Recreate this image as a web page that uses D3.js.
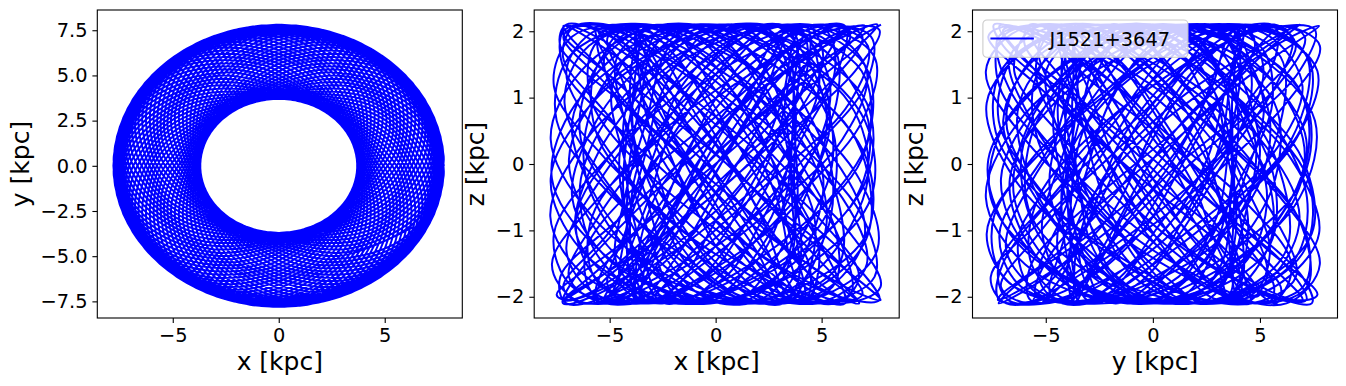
<!DOCTYPE html>
<html>
<head>
<meta charset="utf-8">
<script src="https://cdn.jsdelivr.net/npm/d3@7"></script>
<style>
  body { margin: 0; background: #fff; }
  text { font-family: "DejaVu Sans", sans-serif; fill: #000; }
</style>
</head>
<body>
<div id="chart"></div>
<script>
// Approximate orbit of J1521+3647 in cylindrical coordinates.
// The exact track cannot be read off the picture; these samples are estimates
// that match what can be read: R between 3.7 and 7.8 kpc, |z| up to 2.1 kpc,
// and a dense rosette. R [kpc], azimuth phi [deg], height z [kpc]
var orbitR = [
  7.8,7.2,5.75,4.3,3.7,4.3,5.75,7.2, 7.8,7.2,5.75,4.3,3.7,4.3,5.75,7.2, 7.8,7.2,5.75,4.3,3.7,4.3,5.75,7.2,
  7.8,7.2,5.75,4.3,3.7,4.3,5.75,7.2, 7.8,7.2,5.75,4.3,3.7,4.3,5.75,7.2, 7.8,7.2,5.75,4.3,3.7,4.3,5.75,7.2,
  7.8,7.2,5.75,4.3,3.7,4.3,5.75,7.2, 7.8,7.2,5.75,4.3,3.7,4.3,5.75,7.2, 7.8,7.2,5.75,4.3,3.7,4.3,5.75,7.2,
  7.8,7.2,5.75,4.3,3.7,4.3,5.75,7.2, 7.8,7.2,5.75,4.3,3.7,4.3,5.75,7.2, 7.8,7.2,5.75,4.3,3.7,4.3,5.75,7.2,
  7.8,7.2,5.75,4.3,3.7,4.3,5.75,7.2, 7.8,7.2,5.75,4.3,3.7,4.3,5.75,7.2, 7.8,7.2,5.75,4.3,3.7,4.3,5.75,7.2,
  7.8,7.2,5.75,4.3,3.7,4.3,5.75,7.2, 7.8,7.2,5.75,4.3,3.7,4.3,5.75,7.2, 7.8,7.2,5.75,4.3,3.7,4.3,5.75,7.2,
  7.8,7.2,5.75,4.3,3.7,4.3,5.75,7.2, 7.8,7.2,5.75,4.3,3.7,4.3,5.75,7.2, 7.8,7.2,5.75,4.3,3.7,4.3,5.75,7.2,
  7.8,7.2,5.75,4.3,3.7,4.3,5.75,7.2, 7.8,7.2,5.75,4.3,3.7,4.3,5.75,7.2, 7.8,7.2,5.75,4.3,3.7,4.3,5.75,7.2,
  7.8,7.2,5.75,4.3,3.7,4.3,5.75,7.2, 7.8,7.2,5.75,4.3,3.7,4.3,5.75,7.2, 7.8,7.2,5.75,4.3,3.7,4.3,5.75,7.2,
  7.8,7.2,5.75,4.3,3.7,4.3,5.75,7.2, 7.8,7.2,5.75,4.3,3.7,4.3,5.75,7.2, 7.8,7.2,5.75,4.3,3.7,4.3,5.75,7.2,
  7.8,7.2,5.75,4.3,3.7,4.3,5.75,7.2, 7.8,7.2,5.75,4.3,3.7,4.3,5.75,7.2, 7.8,7.2,5.75,4.3,3.7,4.3,5.75,7.2,
  7.8,7.2,5.75,4.3,3.7,4.3,5.75,7.2, 7.8,7.2,5.75,4.3,3.7,4.3,5.75,7.2, 7.8,7.2,5.75,4.3,3.7,4.3,5.75,7.2,
  7.8,7.2,5.75,4.3,3.7,4.3,5.75,7.2, 7.8,7.2,5.75,4.3,3.7,4.3,5.75,7.2, 7.8,7.2,5.75,4.3,3.7,4.3,5.75,7.2,
  7.8,7.2,5.75,4.3,3.7,4.3,5.75,7.2, 7.8,7.2,5.75,4.3,3.7,4.3,5.75,7.2, 7.8,7.2,5.75,4.3,3.7,4.3,5.75,7.2,
  7.8,7.2,5.75,4.3,3.7,4.3,5.75,7.2, 7.8,7.2,5.75,4.3,3.7,4.3,5.75,7.2, 7.8,7.2,5.75,4.3,3.7,4.3,5.75,7.2,
  7.8,7.2,5.75,4.3,3.7,4.3,5.75,7.2, 7.8,7.2,5.75,4.3,3.7,4.3,5.75,7.2, 7.8,7.2,5.75,4.3,3.7,4.3,5.75,7.2,
  7.8,7.2,5.75,4.3,3.7,4.3,5.75,7.2, 7.8,7.2,5.75,4.3,3.7,4.3,5.75,7.2, 7.8,7.2,5.75,4.3,3.7,4.3,5.75,7.2,
  7.8,7.2,5.75,4.3,3.7,4.3,5.75,7.2, 7.8,7.2,5.75,4.3,3.7,4.3,5.75,7.2, 7.8,7.2,5.75,4.3,3.7,4.3,5.75,7.2,
  7.8,7.2,5.75,4.3,3.7,4.3,5.75,7.2, 7.8,7.2,5.75,4.3,3.7,4.3,5.75,7.2, 7.8,7.2,5.75,4.3,3.7,4.3,5.75,7.2,
  7.8,7.2,5.75,4.3,3.7,4.3,5.75,7.2, 7.8,7.2,5.75,4.3,3.7,4.3,5.75,7.2, 7.8,7.2,5.75,4.3,3.7,4.3,5.75,7.2,
  7.8,7.2,5.75,4.3,3.7,4.3,5.75,7.2, 7.8,7.2,5.75,4.3,3.7,4.3,5.75,7.2, 7.8,7.2,5.75,4.3,3.7,4.3,5.75,7.2,
  7.8,7.2,5.75,4.3,3.7,4.3,5.75,7.2, 7.8,7.2,5.75,4.3,3.7,4.3,5.75,7.2, 7.8,7.2,5.75,4.3,3.7,4.3,5.75,7.2,
  7.8,7.2,5.75,4.3,3.7,4.3,5.75,7.2, 7.8,7.2,5.75,4.3,3.7,4.3,5.75,7.2, 7.8,7.2,5.75,4.3,3.7,4.3,5.75,7.2,
  7.8,7.2,5.75,4.3,3.7,4.3,5.75,7.2, 7.8,7.2,5.75,4.3,3.7,4.3,5.75,7.2, 7.8,7.2,5.75,4.3,3.7,4.3,5.75,7.2,
  7.8,7.2,5.75,4.3,3.7,4.3,5.75,7.2, 7.8,7.2,5.75,4.3,3.7,4.3,5.75,7.2, 7.8,7.2,5.75,4.3,3.7,4.3,5.75,7.2,
  7.8,7.2,5.75,4.3,3.7,4.3,5.75,7.2, 7.8,7.2,5.75,4.3,3.7,4.3,5.75,7.2, 7.8,7.2,5.75,4.3,3.7,4.3,5.75,7.2,
  7.8,7.2,5.75,4.3,3.7,4.3,5.75,7.2, 7.8,7.2,5.75,4.3,3.7,4.3,5.75,7.2, 7.8,7.2,5.75,4.3,3.7,4.3,5.75,7.2,
  7.8,7.2,5.75,4.3,3.7,4.3,5.75,7.2, 7.8,7.2,5.75,4.3,3.7,4.3,5.75,7.2, 7.8,7.2,5.75,4.3,3.7,4.3,5.75,7.2,
  7.8,7.2,5.75,4.3,3.7,4.3,5.75,7.2, 7.8,7.2,5.75,4.3,3.7,4.3,5.75,7.2, 7.8,7.2,5.75,4.3,3.7,4.3,5.75,7.2,
  7.8,7.2,5.75,4.3,3.7,4.3,5.75,7.2, 7.8,7.2,5.75,4.3,3.7,4.3,5.75,7.2, 7.8,7.2,5.75,4.3,3.7,4.3,5.75,7.2
];
var orbitPhi = [
  0,32,64,96,128,160,192,224,256,288,320,352,24,56,88,
  120,152,184,216,248,280,312,344,16,48,80,112,144,176,208,
  240,272,304,336,8,40,72,104,136,168,200,232,264,296,328,
  0,32,64,96,128,160,192,224,256,288,320,352,24,56,88,
  120,152,184,216,248,280,312,344,16,48,80,112,144,176,208,
  240,272,304,336,8,40,72,104,136,168,200,232,264,296,328,
  0,32,64,96,128,160,192,224,256,288,320,352,24,56,88,
  120,152,184,216,248,280,312,344,16,48,80,112,144,176,208,
  240,272,304,336,8,40,72,104,136,168,200,232,264,296,328,
  0,32,64,96,128,160,192,224,256,288,320,352,24,56,88,
  120,152,184,216,248,280,312,344,16,48,80,112,144,176,208,
  240,272,304,336,8,40,72,104,136,168,200,232,264,296,328,
  0,32,64,96,128,160,192,224,256,288,320,352,24,56,88,
  120,152,184,216,248,280,312,344,16,48,80,112,144,176,208,
  240,272,304,336,8,40,72,104,136,168,200,232,264,296,328,
  0,32,64,96,128,160,192,224,256,288,320,352,24,56,88,
  120,152,184,216,248,280,312,344,16,48,80,112,144,176,208,
  240,272,304,336,8,40,72,104,136,168,200,232,264,296,328,
  0,32,64,96,128,160,192,224,256,288,320,352,24,56,88,
  120,152,184,216,248,280,312,344,16,48,80,112,144,176,208,
  240,272,304,336,8,40,72,104,136,168,200,232,264,296,328,
  0,32,64,96,128,160,192,224,256,288,320,352,24,56,88,
  120,152,184,216,248,280,312,344,16,48,80,112,144,176,208,
  240,272,304,336,8,40,72,104,136,168,200,232,264,296,328,
  4,36,68,100,132,164,196,228,260,292,324,356,28,60,92,
  124,156,188,220,252,284,316,348,20,52,84,116,148,180,212,
  244,276,308,340,12,44,76,108,140,172,204,236,268,300,332,
  4,36,68,100,132,164,196,228,260,292,324,356,28,60,92,
  124,156,188,220,252,284,316,348,20,52,84,116,148,180,212,
  244,276,308,340,12,44,76,108,140,172,204,236,268,300,332,
  4,36,68,100,132,164,196,228,260,292,324,356,28,60,92,
  124,156,188,220,252,284,316,348,20,52,84,116,148,180,212,
  244,276,308,340,12,44,76,108,140,172,204,236,268,300,332,
  4,36,68,100,132,164,196,228,260,292,324,356,28,60,92,
  124,156,188,220,252,284,316,348,20,52,84,116,148,180,212,
  244,276,308,340,12,44,76,108,140,172,204,236,268,300,332,
  4,36,68,100,132,164,196,228,260,292,324,356,28,60,92,
  124,156,188,220,252,284,316,348,20,52,84,116,148,180,212,
  244,276,308,340,12,44,76,108,140,172,204,236,268,300,332,
  4,36,68,100,132,164,196,228,260,292,324,356,28,60,92,
  124,156,188,220,252,284,316,348,20,52,84,116,148,180,212,
  244,276,308,340,12,44,76,108,140,172,204,236,268,300,332,
  4,36,68,100,132,164,196,228,260,292,324,356,28,60,92,
  124,156,188,220,252,284,316,348,20,52,84,116,148,180,212,
  244,276,308,340,12,44,76,108,140,172,204,236,268,300,332,
  4,36,68,100,132,164,196,228,260,292,324,356,28,60,92,
  124,156,188,220,252,284,316,348,20,52,84,116,148,180,212,
  244,276,308,340,12,44,76,108,140,172,204,236,268,300,332
];
var orbitZ = [
  2.10,1.78,0.92,-0.22,-1.29,-1.97,-2.05,-1.51,-0.51,0.65,1.61,2.08,1.92,1.17,0.07,
  -1.29,-1.97,-2.05,-1.51,-0.51,0.65,1.61,2.08,1.92,1.17,0.07,-1.05,-1.85,-2.10,-1.70,
  -0.51,0.65,1.61,2.08,1.92,1.17,0.07,-1.05,-1.85,-2.10,-1.70,-0.79,0.37,1.40,2.02,
  1.92,1.17,0.07,-1.05,-1.85,-2.10,-1.70,-0.79,0.37,1.40,2.02,2.02,1.40,0.37,-0.79,
  -1.85,-2.10,-1.70,-0.79,0.37,1.40,2.02,2.02,1.40,0.37,-0.79,-1.70,-2.10,-1.85,-1.05,
  0.37,1.40,2.02,2.02,1.40,0.37,-0.79,-1.70,-2.10,-1.85,-1.05,0.07,1.17,1.92,2.08,
  1.40,0.37,-0.79,-1.70,-2.10,-1.85,-1.05,0.07,1.17,1.92,2.08,1.61,0.65,-0.51,-1.51,
  -2.10,-1.85,-1.05,0.07,1.17,1.92,2.08,1.61,0.65,-0.51,-1.51,-2.05,-1.97,-1.29,-0.22,
  1.17,1.92,2.08,1.61,0.65,-0.51,-1.51,-2.05,-1.97,-1.29,-0.22,0.92,1.78,2.10,1.78,
  0.65,-0.51,-1.51,-2.05,-1.97,-1.29,-0.22,0.92,1.78,2.10,1.78,0.92,-0.22,-1.29,-1.97,
  -1.97,-1.29,-0.22,0.92,1.78,2.10,1.78,0.92,-0.22,-1.29,-1.97,-2.05,-1.51,-0.51,0.65,
  1.78,2.10,1.78,0.92,-0.22,-1.29,-1.97,-2.05,-1.51,-0.51,0.65,1.61,2.08,1.92,1.17,
  -0.22,-1.29,-1.97,-2.05,-1.51,-0.51,0.65,1.61,2.08,1.92,1.17,0.07,-1.05,-1.85,-2.10,
  -1.51,-0.51,0.65,1.61,2.08,1.92,1.17,0.07,-1.05,-1.85,-2.10,-1.70,-0.79,0.37,1.40,
  2.08,1.92,1.17,0.07,-1.05,-1.85,-2.10,-1.70,-0.79,0.37,1.40,2.02,2.02,1.40,0.37,
  -1.05,-1.85,-2.10,-1.70,-0.79,0.37,1.40,2.02,2.02,1.40,0.37,-0.79,-1.70,-2.10,-1.85,
  -0.79,0.37,1.40,2.02,2.02,1.40,0.37,-0.79,-1.70,-2.10,-1.85,-1.05,0.07,1.17,1.92,
  2.02,1.40,0.37,-0.79,-1.70,-2.10,-1.85,-1.05,0.07,1.17,1.92,2.08,1.61,0.65,-0.51,
  -1.70,-2.10,-1.85,-1.05,0.07,1.17,1.92,2.08,1.61,0.65,-0.51,-1.51,-2.05,-1.97,-1.29,
  0.07,1.17,1.92,2.08,1.61,0.65,-0.51,-1.51,-2.05,-1.97,-1.29,-0.22,0.92,1.78,2.10,
  1.61,0.65,-0.51,-1.51,-2.05,-1.97,-1.29,-0.22,0.92,1.78,2.10,1.78,0.92,-0.22,-1.29,
  -2.05,-1.97,-1.29,-0.22,0.92,1.78,2.10,1.78,0.92,-0.22,-1.29,-1.97,-2.05,-1.51,-0.51,
  0.92,1.78,2.10,1.78,0.92,-0.22,-1.29,-1.97,-2.05,-1.51,-0.51,0.65,1.61,2.08,1.92,
  0.92,-0.22,-1.29,-1.97,-2.05,-1.51,-0.51,0.65,1.61,2.08,1.92,1.17,0.07,-1.05,-1.85,
  -2.05,-1.51,-0.51,0.65,1.61,2.08,1.92,1.17,0.07,-1.05,-1.85,-2.10,-1.70,-0.79,0.37,
  1.61,2.08,1.92,1.17,0.07,-1.05,-1.85,-2.10,-1.70,-0.79,0.37,1.40,2.02,2.02,1.40,
  0.07,-1.05,-1.85,-2.10,-1.70,-0.79,0.37,1.40,2.02,2.02,1.40,0.37,-0.79,-1.70,-2.10,
  -1.70,-0.79,0.37,1.40,2.02,2.02,1.40,0.37,-0.79,-1.70,-2.10,-1.85,-1.05,0.07,1.17,
  2.02,2.02,1.40,0.37,-0.79,-1.70,-2.10,-1.85,-1.05,0.07,1.17,1.92,2.08,1.61,0.65,
  -0.79,-1.70,-2.10,-1.85,-1.05,0.07,1.17,1.92,2.08,1.61,0.65,-0.51,-1.51,-2.05,-1.97,
  -1.05,0.07,1.17,1.92,2.08,1.61,0.65,-0.51,-1.51,-2.05,-1.97,-1.29,-0.22,0.92,1.78,
  2.08,1.61,0.65,-0.51,-1.51,-2.05,-1.97,-1.29,-0.22,0.92,1.78,2.10,1.78,0.92,-0.22,
  -1.51,-2.05,-1.97,-1.29,-0.22,0.92,1.78,2.10,1.78,0.92,-0.22,-1.29,-1.97,-2.05,-1.51,
  -0.22,0.92,1.78,2.10,1.78,0.92,-0.22,-1.29,-1.97,-2.05,-1.51,-0.51,0.65,1.61,2.08,
  1.78,0.92,-0.22,-1.29,-1.97,-2.05,-1.51,-0.51,0.65,1.61,2.08,1.92,1.17,0.07,-1.05,
  -1.97,-2.05,-1.51,-0.51,0.65,1.61,2.08,1.92,1.17,0.07,-1.05,-1.85,-2.10,-1.70,-0.79,
  0.65,1.61,2.08,1.92,1.17,0.07,-1.05,-1.85,-2.10,-1.70,-0.79,0.37,1.40,2.02,2.02,
  1.17,0.07,-1.05,-1.85,-2.10,-1.70,-0.79,0.37,1.40,2.02,2.02,1.40,0.37,-0.79,-1.70,
  -2.10,-1.70,-0.79,0.37,1.40,2.02,2.02,1.40,0.37,-0.79,-1.70,-2.10,-1.85,-1.05,0.07,
  1.40,2.02,2.02,1.40,0.37,-0.79,-1.70,-2.10,-1.85,-1.05,0.07,1.17,1.92,2.08,1.61,
  0.37,-0.79,-1.70,-2.10,-1.85,-1.05,0.07,1.17,1.92,2.08,1.61,0.65,-0.51,-1.51,-2.05,
  -1.85,-1.05,0.07,1.17,1.92,2.08,1.61,0.65,-0.51,-1.51,-2.05,-1.97,-1.29,-0.22,0.92,
  1.92,2.08,1.61,0.65,-0.51,-1.51,-2.05,-1.97,-1.29,-0.22,0.92,1.78,2.10,1.78,0.92,
  -0.51,-1.51,-2.05,-1.97,-1.29,-0.22,0.92,1.78,2.10,1.78,0.92,-0.22,-1.29,-1.97,-2.05,
  -1.29,-0.22,0.92,1.78,2.10,1.78,0.92,-0.22,-1.29,-1.97,-2.05,-1.51,-0.51,0.65,1.61,
  2.10,1.78,0.92,-0.22,-1.29,-1.97,-2.05,-1.51,-0.51,0.65,1.61,2.08,1.92,1.17,0.07,
  -1.29,-1.97,-2.05,-1.51,-0.51,0.65,1.61,2.08,1.92,1.17,0.07,-1.05,-1.85,-2.10,-1.70,
  -0.51,0.65,1.61,2.08,1.92,1.17,0.07,-1.05,-1.85,-2.10,-1.70,-0.79,0.37,1.40,2.02
];

var orbitName = "J1521+3647";

// tick values and axis ranges
var posTicks = [-5, 0, 5];
var posTicksY = [-7.5, -5, -2.5, 0, 2.5, 5, 7.5];
var zTicks = [-2, -1, 0, 1, 2];
var xRange = [-8.56, 8.66];
var yRange = [-8.42, 8.62];
var zRange = [-2.32, 2.32];

// figure layout
var svgWidth = 1346, svgHeight = 386;
var plotTop = 10, plotWidth = 365, plotHeight = 308;
var tickLen = 4.9, tickPad = 4.9;
var tickFont = 19.4, labelFont = 25;
var lineColor = "#0000ff";

// cartesian positions of the orbit
var orbit = orbitR.map(function(r, i) {
  var a = orbitPhi[i] * Math.PI / 180;
  return { x: r * Math.cos(a), y: r * Math.sin(a), z: orbitZ[i] };
});

var panels = [
  { left: 97.3, xKey: "x", yKey: "y", xDomain: xRange, yDomain: yRange,
    xTicks: posTicks, yTicks: posTicksY, yFmt: d3.format(".1f"),
    xLabel: "x [kpc]", yLabel: "y [kpc]" },
  { left: 534.2, xKey: "x", yKey: "z", xDomain: xRange, yDomain: zRange,
    xTicks: posTicks, yTicks: zTicks, yFmt: d3.format("d"),
    xLabel: "x [kpc]", yLabel: "z [kpc]" },
  { left: 972.5, xKey: "y", yKey: "z", xDomain: yRange, yDomain: zRange,
    xTicks: posTicks, yTicks: zTicks, yFmt: d3.format("d"),
    xLabel: "y [kpc]", yLabel: "z [kpc]", legend: true }
];

var svg = d3.select("#chart")
  .append("svg")
  .attr("width", svgWidth)
  .attr("height", svgHeight);

panels.forEach(function(p, idx) {
  var g = svg.append("g")
    .attr("transform", `translate(${p.left}, ${plotTop})`);

  var xScale = d3.scaleLinear().domain(p.xDomain).range([0, plotWidth]);
  var yScale = d3.scaleLinear().domain(p.yDomain).range([plotHeight, 0]);

  svg.append("clipPath")
    .attr("id", "clip" + idx)
    .append("rect")
    .attr("width", plotWidth)
    .attr("height", plotHeight);

  var line = d3.line()
    .x(d => xScale(d[p.xKey]))
    .y(d => yScale(d[p.yKey]))
    .curve(d3.curveCatmullRom);

  g.append("path")
    .datum(orbit)
    .attr("clip-path", `url(#clip${idx})`)
    .attr("fill", "none")
    .attr("stroke", lineColor)
    .attr("stroke-width", 2)
    .attr("stroke-linejoin", "round")
    .attr("d", line);

  // axes
  var xAxis = g.append("g")
    .attr("transform", `translate(0, ${plotHeight})`)
    .call(d3.axisBottom(xScale).tickValues(p.xTicks).tickFormat(d3.format("d"))
      .tickSize(tickLen).tickPadding(tickPad));
  var yAxis = g.append("g")
    .call(d3.axisLeft(yScale).tickValues(p.yTicks).tickFormat(p.yFmt)
      .tickSize(tickLen).tickPadding(tickPad));

  [xAxis, yAxis].forEach(function(ax) {
    ax.attr("font-family", null).attr("font-size", null);
    ax.select(".domain").remove();
    ax.selectAll(".tick line").attr("stroke", "#000").attr("stroke-width", 1.1);
    ax.selectAll(".tick text").style("font-size", tickFont + "px");
  });

  // frame
  g.append("rect")
    .attr("width", plotWidth)
    .attr("height", plotHeight)
    .attr("fill", "none")
    .attr("stroke", "#000")
    .attr("stroke-width", 1.1);

  // axis labels
  g.append("text")
    .attr("x", plotWidth / 2)
    .attr("y", 370 - plotTop)
    .attr("text-anchor", "middle")
    .style("font-size", labelFont + "px")
    .text(p.xLabel);

  var maxW = d3.max(yAxis.selectAll(".tick text").nodes(), n => n.getComputedTextLength());
  var labelX = -(tickLen + tickPad + maxW + 5.6 + 5.9);
  g.append("text")
    .attr("transform", `translate(${labelX}, ${plotHeight / 2}) rotate(-90)`)
    .attr("text-anchor", "middle")
    .style("font-size", labelFont + "px")
    .text(p.yLabel);

  if (p.legend) {
    var lg = g.append("g").attr("transform", "translate(10.4, 10)");
    lg.append("rect")
      .attr("width", 205)
      .attr("height", 37.3)
      .attr("rx", 4)
      .attr("fill", "#fff")
      .attr("fill-opacity", 0.8)
      .attr("stroke", "#cccccc")
      .attr("stroke-width", 1.1);
    lg.append("line")
      .attr("x1", 7.5).attr("x2", 51)
      .attr("y1", 18.5).attr("y2", 18.5)
      .attr("stroke", lineColor)
      .attr("stroke-width", 2);
    lg.append("text")
      .attr("x", 66.5)
      .attr("y", 25.5)
      .style("font-size", tickFont + "px")
      .text(orbitName);
  }
});
</script>
</body>
</html>
